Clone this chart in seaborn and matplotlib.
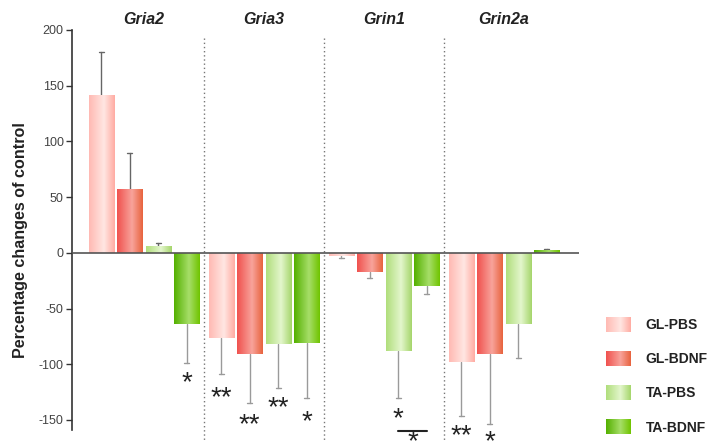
import numpy as np
import pandas as pd
import matplotlib
matplotlib.use("Agg")
import matplotlib.pyplot as plt
import seaborn as sns
from matplotlib.colors import LinearSegmentedColormap

# data (percentage change vs control, one-sided SD)
genes = ["Gria2", "Gria3", "Grin1", "Grin2a"]
groups = ["GL-PBS", "GL-BDNF", "TA-PBS", "TA-BDNF"]

gl_pbs = [142, -76, -3, -98]
gl_bdnf = [57, -91, -17, -91]
ta_pbs = [6, -82, -88, -64]
ta_bdnf = [-64, -81, -30, 2.5]

gl_pbs_err = [38, 33, 1.5, 48]
gl_bdnf_err = [33, 44, 6, 63]
ta_pbs_err = [3, 39, 42, 30]
ta_bdnf_err = [35, 49, 7, 1]

# significance marks: gene, group, text, y position
star_gene = ["Gria2", "Gria3", "Gria3", "Gria3", "Gria3", "Grin1", "Grin2a", "Grin2a"]
star_group = ["TA-BDNF", "GL-PBS", "GL-BDNF", "TA-PBS", "TA-BDNF", "TA-PBS", "GL-PBS", "GL-BDNF"]
star_text = ["*", "**", "**", "**", "*", "*", "**", "*"]
star_y = [-113, -126, -150, -135, -148, -145, -160, -166]

# gradient stops (left edge, highlight, right edge) per group
gradients = {
    "GL-PBS": ["#ffbab3", "#ffe6e2", "#ffaca3"],
    "GL-BDNF": ["#f0524f", "#f8a39b", "#e8643f"],
    "TA-PBS": ["#b0de7c", "#e3f6cc", "#a6d66c"],
    "TA-BDNF": ["#54b000", "#a6de68", "#70c400"],
}
mid_colors = {g: c[0] for g, c in gradients.items()}

values = [gl_pbs, gl_bdnf, ta_pbs, ta_bdnf]
errors = [gl_pbs_err, gl_bdnf_err, ta_pbs_err, ta_bdnf_err]
df = pd.DataFrame({
    "gene": np.tile(genes, len(groups)),
    "group": np.repeat(groups, len(genes)),
    "value": np.concatenate(values),
    "err": np.concatenate(errors),
})

sns.set_style("white")
plt.rcParams["font.family"] = ["Liberation Sans", "DejaVu Sans"]
plt.rcParams["axes.unicode_minus"] = False

fig = plt.figure(figsize=(7.1, 4.45), dpi=100)
ax = fig.add_axes([72 / 710, 15 / 445, 507 / 710, 400 / 445])

sns.barplot(data=df, x="gene", y="value", hue="group", order=genes,
            hue_order=groups, palette=mid_colors, width=0.95, gap=0.12,
            errorbar=None, ax=ax, zorder=2)
ax.get_legend().remove()

ylim = (-159, 200)
xlim = (-0.6, 3.625)


def grad_cmap(name):
    return LinearSegmentedColormap.from_list(
        name, list(zip([0, 0.58, 1], gradients[name])))


# gradient fill + one-sided error bars
centers = {}
grad = np.linspace(0, 1, 64)[np.newaxis, :]
for grp, cont in zip(groups, ax.containers):
    cmap = grad_cmap(grp)
    for gene, rect in zip(genes, cont.patches):
        x0, w = rect.get_x(), rect.get_width()
        h = rect.get_height()
        y_lo, y_hi = min(0, h), max(0, h)
        im = ax.imshow(grad, cmap=cmap, aspect="auto", zorder=2,
                       extent=(x0, x0 + w, y_lo, y_hi))
        im.set_clip_path(rect)
        rect.set_facecolor("none")
        rect.set_edgecolor("none")
        cx = x0 + w / 2
        centers[(gene, grp)] = cx
        e = df.loc[(df.gene == gene) & (df.group == grp), "err"].iloc[0]
        end = h + np.sign(h) * e
        col = "#666666" if h > 0 else "#9a9a9a"
        ax.plot([cx, cx], [h, end], color=col, lw=1, zorder=1.5)
        ax.plot([cx - 0.02, cx + 0.02], [end, end], color=col, lw=1, zorder=1.5)

ax.set_xlim(*xlim)
ax.set_ylim(*ylim)

# zero line and separators
ax.axhline(0, color="#555555", lw=1.2, zorder=3)
for xs in [0.5, 1.5, 2.5]:
    ax.plot([xs, xs], [193, -168], ls=(0, (1, 2)), color="#777777", lw=1,
            clip_on=False, zorder=1)

# stars
fs = 20
off = -8.5
for gene, grp, txt, yv in zip(star_gene, star_group, star_text, star_y):
    ax.annotate(txt, xy=(centers[(gene, grp)], yv), xytext=(0, off),
                textcoords="offset points", ha="center", va="baseline",
                fontsize=fs, color="#222222", annotation_clip=False)
x1 = centers[("Grin1", "TA-PBS")]
x2 = centers[("Grin1", "TA-BDNF")]
ax.plot([x1, x2], [-159.5, -159.5], color="#222222", lw=1.5, clip_on=False)
ax.annotate("*", xy=((x1 + x2) / 2, -166), xytext=(0, off),
            textcoords="offset points", ha="center", va="baseline",
            fontsize=fs, color="#222222", annotation_clip=False)

# axes styling
for s in ["top", "right", "bottom"]:
    ax.spines[s].set_visible(False)
ax.spines["left"].set_color("#333333")
ax.spines["left"].set_linewidth(1.2)
ax.set_yticks([-150, -100, -50, 0, 50, 100, 150, 200])
ax.tick_params(axis="y", left=True, length=4, width=1, color="#333333",
               labelsize=9, labelcolor="#444444", pad=2)
ax.xaxis.set_ticks_position("top")
ax.tick_params(axis="x", top=True, labeltop=True, bottom=False,
               labelbottom=False, length=0, pad=2)
for lab in ax.get_xticklabels():
    lab.set_fontweight("bold")
    lab.set_fontstyle("italic")
    lab.set_fontsize(11.5)
    lab.set_color("#222222")
ax.set_xlabel("")
ax.set_ylabel("Percentage changes of control", fontsize=11.6,
              fontweight="bold", color="#222222")
ax.yaxis.set_label_coords(-0.087, 0.475)

# legend with gradient swatches
handles = [plt.Rectangle((0, 0), 1, 1, facecolor=mid_colors[g],
                         edgecolor="none") for g in groups]
leg = fig.legend(handles, groups, loc="upper left",
                 bbox_to_anchor=(606 / 710, 1 - 317 / 445), frameon=False,
                 prop={"weight": "bold", "size": 10}, handlelength=1.75,
                 handleheight=1.3, handletextpad=1.1, labelspacing=1.36,
                 borderpad=0, borderaxespad=0)
for t in leg.get_texts():
    t.set_color("#222222")

fig.canvas.draw()
inv = fig.transFigure.inverted()
for grp, p in zip(groups, leg.get_patches()):
    bb = p.get_window_extent().transformed(inv)
    lax = fig.add_axes(bb.bounds)
    lax.imshow(grad, cmap=grad_cmap(grp), aspect="auto")
    lax.axis("off")
    lax.set_zorder(10)

fig.savefig("out.png", dpi=100)
